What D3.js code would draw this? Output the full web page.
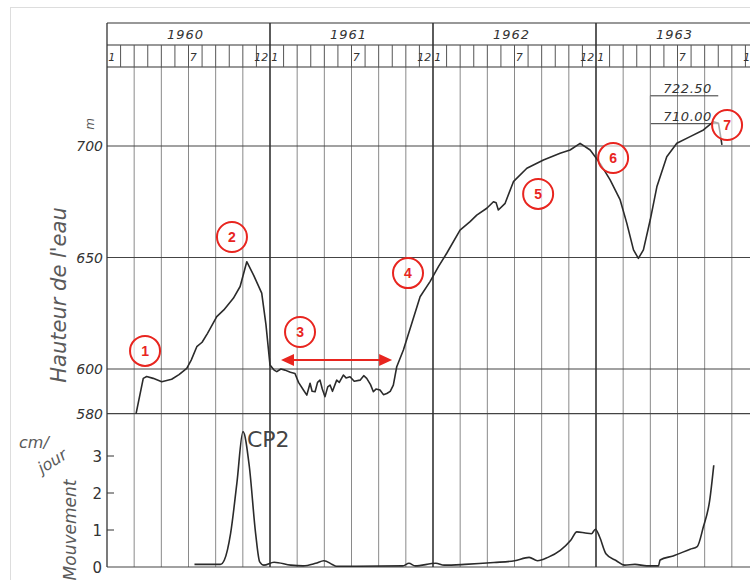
<!DOCTYPE html>
<html>
<head>
<meta charset="utf-8">
<script src="https://cdn.jsdelivr.net/npm/d3@7"></script>
<style>
  body { margin: 0; background: #fff; }
  svg { display: block; font-family: 'DejaVu Sans', sans-serif; }
</style>
</head>
<body>
<div id="chart"></div>
<script>
// months are counted from 1 Jan 1960 (0) to 1 Jan 1964 (48)
const years = [1960, 1961, 1962, 1963]
const monthLabels = { 0: '1', 6: '7', 11: '12' }

// water level (m)
const levelMonths = [2.14, 2.67, 2.92, 3.4, 4.03, 4.76, 5.3, 5.87, 6.2, 6.61, 7.0, 7.4, 8.08, 8.6, 9.3, 9.8, 10.29, 10.8, 11.39, 11.7,
  12.0, 12.3, 12.5, 12.8, 13.11, 13.5, 13.84, 14.1, 14.46, 14.71, 14.95, 15.1, 15.32, 15.5, 15.68, 15.85, 16.05, 16.25, 16.42, 16.6,
  16.91, 17.1, 17.4, 17.6, 17.89, 18.2, 18.63, 18.9, 19.12, 19.4, 19.61, 19.8, 20.1, 20.35, 20.6, 20.85, 21.08, 21.33, 21.82, 22.44,
  23.05, 23.78, 24.4, 25.01, 25.99, 26.73, 27.22, 27.96, 28.45, 28.65, 28.81, 29.31, 29.92, 30.91, 32.13, 33.36, 34.09, 34.83, 35.57, 36.3,
  37.04, 37.78, 38.27, 38.76, 39.12, 39.49, 39.99, 40.48, 41.21, 41.95, 42.93, 43.91, 44.65, 45.02, 45.14, 45.27]
const levelHeights = [580, 595.8, 596.6, 595.8, 594.3, 595.4, 597.5, 600.3, 604, 610, 612, 616, 623.5, 626.5, 631.7, 637, 648.1, 642, 634, 620,
  601.8, 599.5, 598.8, 600, 599.5, 598.5, 598, 594, 590.6, 588.3, 593.6, 590, 589.8, 594, 595, 591, 587.6, 592, 592.8, 590,
  595, 594, 597.3, 596, 596.5, 594.5, 595, 597, 595.8, 593, 589.8, 591, 590.6, 588.5, 589, 590, 592.8, 601, 608.5, 620.5,
  632.4, 639.2, 645.9, 651.9, 662.3, 666.1, 669, 672.1, 675, 674.5, 671.3, 674.3, 684, 690, 693.7, 696.7, 698.2, 701.2, 698.2, 692.2,
  684.8, 675.8, 665.3, 653.4, 649.6, 653.4, 666.8, 681.7, 695.2, 701.2, 704.2, 707.2, 710.9, 710.2, 705.7, 700.5]

// movement (cm/jour)
const moveMonths = [6.44, 8.34, 8.64, 9.1, 9.56, 10.01, 10.48, 10.94, 11.24, 11.55, 12.3, 13.53, 14.44, 15.36, 15.97, 16.58, 16.88,
  21.77, 22.23, 22.69, 24.21, 24.82, 26.35, 28.49, 30.01, 31.08, 31.69, 32.46, 33.37, 34.14, 34.59, 35.21, 35.66, 35.96, 36.27,
  36.73, 37.5, 38.11, 38.87, 39.74, 40.6, 40.72, 41.68, 42.93, 43.45, 43.9, 44.37, 44.67]
const moveValues = [0.07, 0.07, 0.19, 0.91, 2.26, 3.66, 2.71, 0.91, 0.14, 0.05, 0.13, 0.05, 0.03, 0.1, 0.17, 0.07, 0.02,
  0.03, 0.1, 0.03, 0.1, 0.05, 0.07, 0.12, 0.17, 0.26, 0.17, 0.26, 0.45, 0.72, 0.95, 0.92, 0.9, 1.02, 0.81,
  0.36, 0.17, 0.05, 0.07, 0.03, 0.03, 0.19, 0.3, 0.48, 0.55, 1.08, 1.8, 2.75]

const levelTicks = [580, 600, 650, 700]
const moveTicks = [1, 2, 3]
const refLevels = [722.5, 710]
const refLabels = ['722.50', '710.00']
const refSpan = [40, 45]

// numbered markers: month, level
const markerNums = [1, 2, 3, 4, 5, 6, 7]
const markerMonths = [2.8, 9.2, 14.21, 22.16, 31.74, 37.26, 45.65]
const markerLevels = [608.1, 659.2, 616.6, 643.0, 678.5, 694.6, 709.4]
const arrowMonths = [12.81, 20.99]
const arrowLevel = 604

const width = 750
const height = 580
const red = '#e8251f'
const ink = '#333'

const svg = d3.select('#chart').append('svg')
  .attr('width', width)
  .attr('height', height)

// faint border of the scan
svg.append('rect')
  .attr('x', 10.5).attr('y', 7.5)
  .attr('width', 800).attr('height', 700)
  .attr('fill', 'none').attr('stroke', '#ddd')

const x = d3.scaleLinear().domain([0, 48]).range([107, 759])
const yLevel = d3.scaleLinear().domain([580, 700]).range([413.6, 146])
const yMove = d3.scaleLinear().domain([0, 3]).range([567, 456])

const headTop = 23
const headMid = 45
const headBottom = 67
const bottom = yMove(0)

// vertical grid every two months
const gridMonths = d3.range(2, 48, 2).filter((m) => m % 12 !== 0)
svg.append('g')
  .selectAll('line')
  .data(gridMonths)
  .enter()
  .append('line')
  .attr('x1', (d) => x(d)).attr('x2', (d) => x(d))
  .attr('y1', headBottom).attr('y2', bottom)
  .attr('stroke', '#8a8a8a').attr('stroke-width', 1)

// horizontal lines
svg.append('g')
  .selectAll('line')
  .data(levelTicks)
  .enter()
  .append('line')
  .attr('x1', x(0)).attr('x2', width)
  .attr('y1', (d) => yLevel(d)).attr('y2', (d) => yLevel(d))
  .attr('stroke', '#444').attr('stroke-width', 1.1)

svg.append('line')
  .attr('x1', x(0)).attr('x2', width)
  .attr('y1', bottom).attr('y2', bottom)
  .attr('stroke', '#444').attr('stroke-width', 1.2)

// header
const head = svg.append('g')
;[headTop, headMid, headBottom].forEach((yy) => {
  head.append('line')
    .attr('x1', x(0)).attr('x2', width)
    .attr('y1', yy).attr('y2', yy)
    .attr('stroke', ink).attr('stroke-width', 1.2)
})

head.selectAll('.month-tick')
  .data(d3.range(1, 48).filter((m) => m % 12 !== 0))
  .enter()
  .append('line')
  .attr('class', 'month-tick')
  .attr('x1', (d) => x(d)).attr('x2', (d) => x(d))
  .attr('y1', headMid).attr('y2', headBottom)
  .attr('stroke', '#555')

// year boundaries, full height
svg.append('g')
  .selectAll('line')
  .data([0, 12, 24, 36])
  .enter()
  .append('line')
  .attr('x1', (d) => x(d)).attr('x2', (d) => x(d))
  .attr('y1', headTop).attr('y2', bottom)
  .attr('stroke', ink).attr('stroke-width', (d) => d === 0 ? 1.3 : 1.6)

head.selectAll('.year')
  .data(years)
  .enter()
  .append('text')
  .attr('class', 'year')
  .attr('x', (d, i) => x(i * 12 + 6) - 3)
  .attr('y', 39)
  .attr('text-anchor', 'middle')
  .attr('font-style', 'italic')
  .attr('font-size', 13)
  .attr('letter-spacing', 1)
  .attr('fill', ink)
  .text((d) => d)

const monthCells = []
years.forEach((yr, i) => {
  Object.keys(monthLabels).forEach((k) => {
    monthCells.push({ m: i * 12 + (+k), label: monthLabels[k] })
  })
})
head.selectAll('.mlabel')
  .data(monthCells)
  .enter()
  .append('text')
  .attr('class', 'mlabel')
  .attr('x', (d) => x(d.m + 0.5) - 2)
  .attr('y', 61)
  .attr('text-anchor', 'middle')
  .attr('font-style', 'italic')
  .attr('font-size', 11)
  .attr('fill', ink)
  .text((d) => d.label)

// left axis labels
svg.append('g')
  .selectAll('text')
  .data(levelTicks)
  .enter()
  .append('text')
  .attr('x', 103)
  .attr('y', (d) => yLevel(d) + 5)
  .attr('text-anchor', 'end')
  .attr('font-style', 'italic')
  .attr('font-size', 14)
  .attr('fill', ink)
  .text((d) => d)

svg.append('text')
  .attr('transform', `translate(${94},${yLevel(700) - 22}) rotate(-90)`)
  .attr('text-anchor', 'middle')
  .attr('font-style', 'italic')
  .attr('font-size', 12)
  .attr('fill', '#555')
  .text('m')

const moveAxis = svg.append('g')
moveAxis.selectAll('line')
  .data(moveTicks)
  .enter()
  .append('line')
  .attr('x1', x(0)).attr('x2', x(0) + 7)
  .attr('y1', (d) => yMove(d)).attr('y2', (d) => yMove(d))
  .attr('stroke', ink)
moveAxis.selectAll('text')
  .data([0, ...moveTicks])
  .enter()
  .append('text')
  .attr('x', 102)
  .attr('y', (d) => yMove(d) + 6)
  .attr('text-anchor', 'end')
  .attr('font-size', 15)
  .attr('fill', ink)
  .text((d) => d)

// axis titles
svg.append('text')
  .attr('transform', 'translate(66,295) rotate(-90)')
  .attr('text-anchor', 'middle')
  .attr('font-style', 'italic')
  .attr('font-size', 21)
  .attr('fill', '#5a5a5a')
  .text('Hauteur de l\'eau')

svg.append('text')
  .attr('transform', 'translate(76,530) rotate(-90)')
  .attr('text-anchor', 'middle')
  .attr('font-style', 'italic')
  .attr('font-size', 17)
  .attr('fill', '#5a5a5a')
  .text('Mouvement')

svg.append('text')
  .attr('x', 19).attr('y', 448)
  .attr('font-style', 'italic')
  .attr('font-size', 16)
  .attr('fill', '#5a5a5a')
  .text('cm/')

svg.append('text')
  .attr('transform', 'translate(42,474) rotate(-32)')
  .attr('font-style', 'italic')
  .attr('font-size', 16)
  .attr('fill', '#5a5a5a')
  .text('jour')

// reference levels near the end
const ref = svg.append('g')
refLevels.forEach((lv, i) => {
  ref.append('line')
    .attr('x1', x(refSpan[0])).attr('x2', x(refSpan[1]))
    .attr('y1', yLevel(lv)).attr('y2', yLevel(lv))
    .attr('stroke', ink)
  ref.append('text')
    .attr('x', x(refSpan[0]) + 13)
    .attr('y', yLevel(lv) - 3)
    .attr('font-style', 'italic')
    .attr('font-size', 13)
    .attr('letter-spacing', 0.5)
    .attr('fill', ink)
    .text(refLabels[i])
})
ref.append('line')
  .attr('x1', x(refSpan[0])).attr('x2', x(refSpan[0]))
  .attr('y1', yLevel(refLevels[0])).attr('y2', yLevel(700))
  .attr('stroke', '#888')

// curves
const levelLine = d3.line()
  .x((d) => x(d[0]))
  .y((d) => yLevel(d[1]))
  .curve(d3.curveLinear)

svg.append('path')
  .datum(levelMonths.map((m, i) => [m, levelHeights[i]]))
  .attr('d', levelLine)
  .attr('fill', 'none')
  .attr('stroke', '#2b2b2b')
  .attr('stroke-width', 1.6)
  .attr('stroke-linejoin', 'round')

const moveLine = d3.line()
  .x((d) => x(d[0]))
  .y((d) => yMove(d[1]))
  .curve(d3.curveMonotoneX)

svg.append('path')
  .datum(moveMonths.map((m, i) => [m, moveValues[i]]))
  .attr('d', moveLine)
  .attr('fill', 'none')
  .attr('stroke', '#2b2b2b')
  .attr('stroke-width', 1.6)

svg.append('text')
  .attr('x', x(10.3)).attr('y', yMove(3.7) + 17)
  .attr('font-size', 22)
  .attr('fill', '#444')
  .text('CP2')

// red annotations
const marks = svg.append('g')
  .selectAll('g')
  .data(markerNums.map((n, i) => ({ n, m: markerMonths[i], lv: markerLevels[i] })))
  .enter()
  .append('g')
  .attr('transform', (d) => `translate(${x(d.m)},${yLevel(d.lv)})`)
marks.append('circle')
  .attr('r', 15)
  .attr('fill', '#fff')
  .attr('fill-opacity', 0.6)
  .attr('stroke', red)
  .attr('stroke-width', 2)
marks.append('text')
  .attr('text-anchor', 'middle')
  .attr('dy', '0.36em')
  .attr('font-family', 'Liberation Sans, Arial, sans-serif')
  .attr('font-weight', 'bold')
  .attr('font-size', 14)
  .attr('fill', red)
  .text((d) => d.n)

const ax1 = x(arrowMonths[0])
const ax2 = x(arrowMonths[1])
const ay = yLevel(arrowLevel)
svg.append('line')
  .attr('x1', ax1 + 10).attr('x2', ax2 - 10)
  .attr('y1', ay).attr('y2', ay)
  .attr('stroke', red).attr('stroke-width', 2)
svg.append('path')
  .attr('d', `M${ax1},${ay} l13,-6 l0,12 Z M${ax2},${ay} l-13,-6 l0,12 Z`)
  .attr('fill', red)
</script>
</body>
</html>
